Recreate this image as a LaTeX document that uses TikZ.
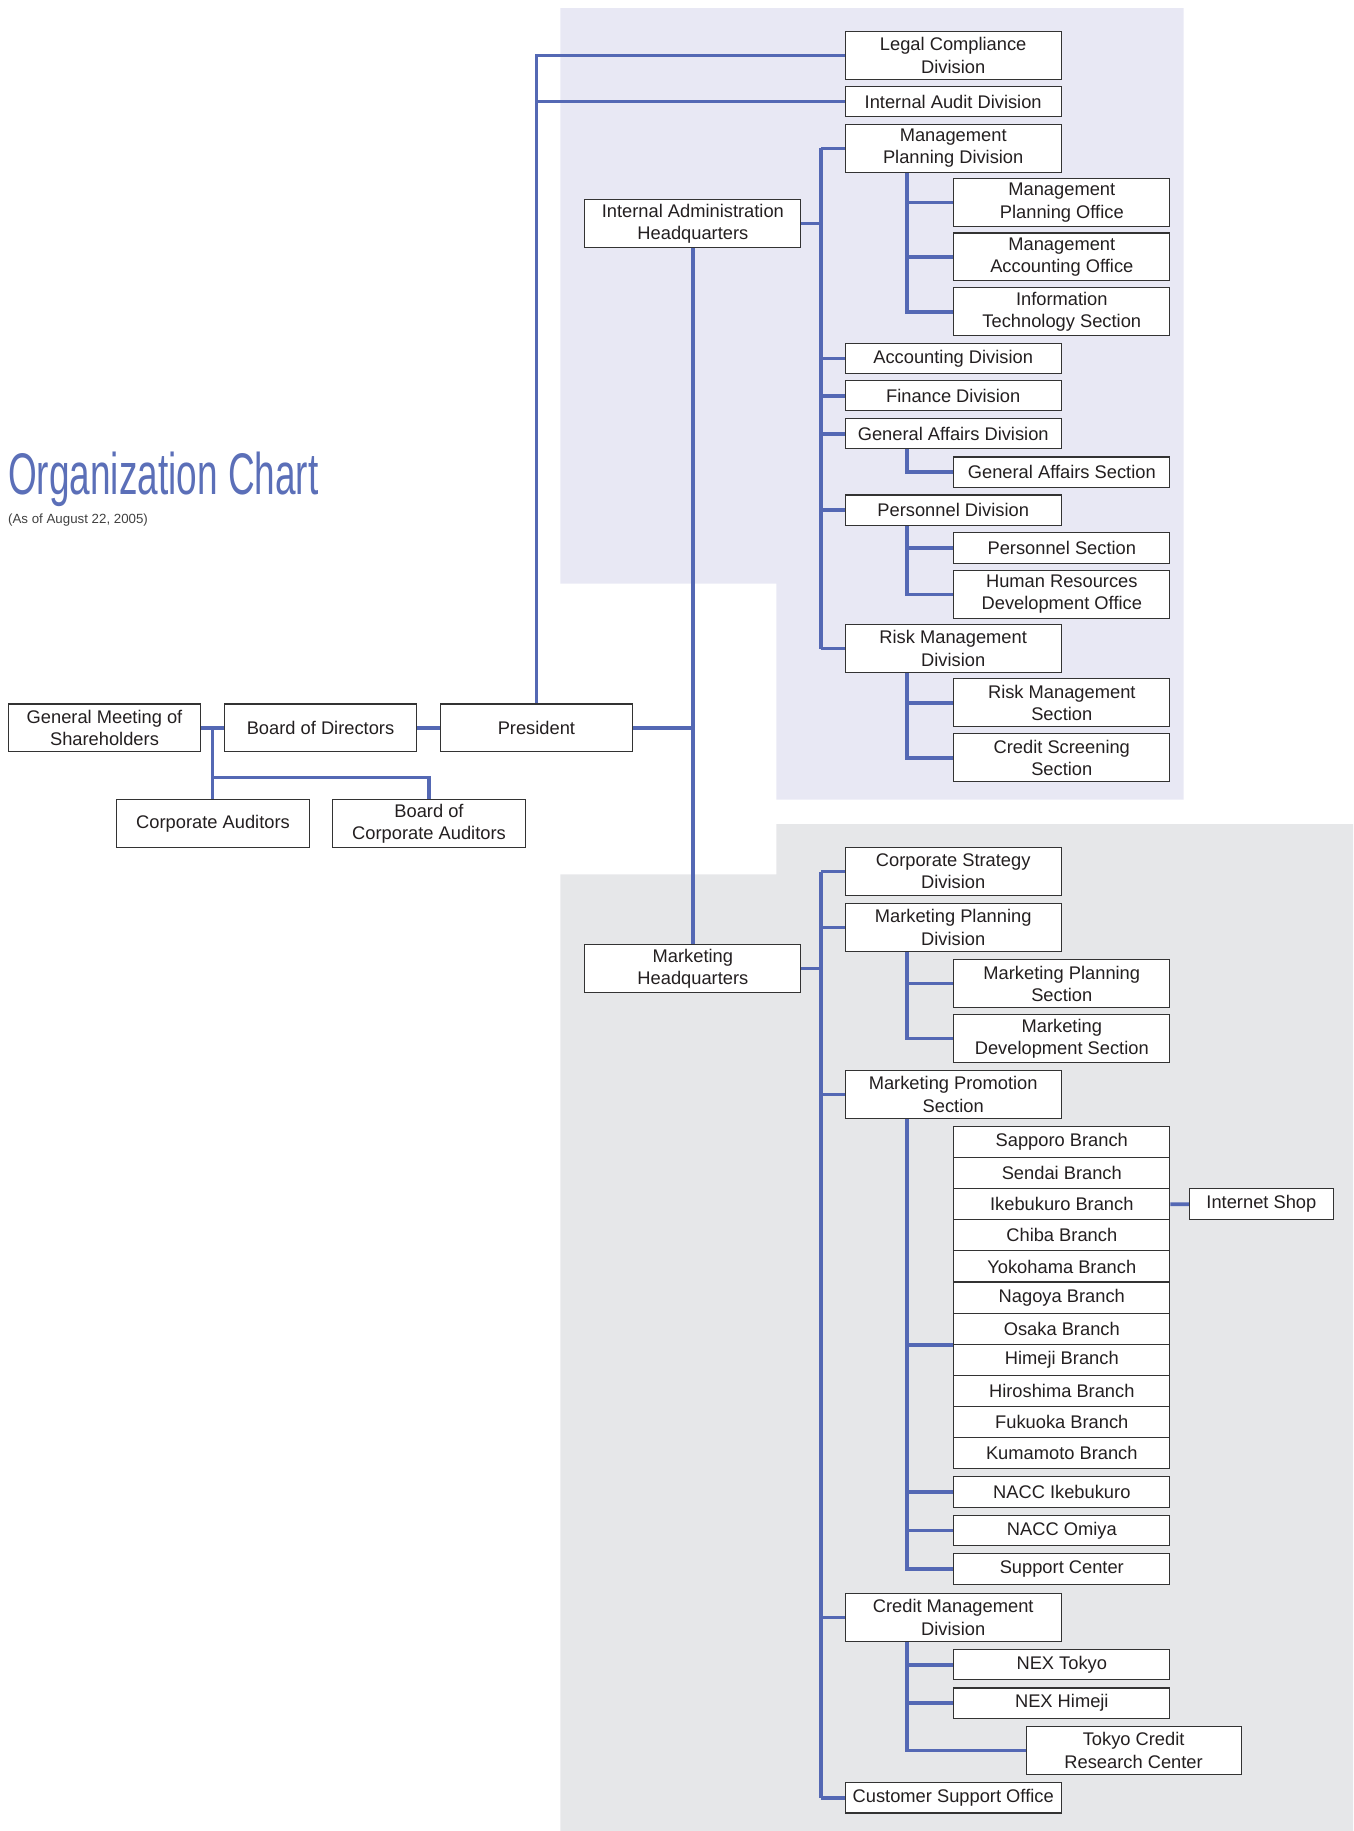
\documentclass[tikz,border=0pt]{standalone}
\usepackage{fontspec}
\setmainfont{Liberation Sans}
\newfontfamily\titlefont[FakeStretch=0.63]{Liberation Sans}
\definecolor{lineblue}{HTML}{5468B4}
\definecolor{titleblue}{HTML}{5B6FB8}
\definecolor{lav}{HTML}{E8E8F4}
\definecolor{greybg}{HTML}{E6E7E9}
\definecolor{boxline}{HTML}{333333}
\definecolor{txt}{HTML}{231F20}
\pgfdeclarelayer{bg}
\pgfdeclarelayer{lines}
\pgfsetlayers{bg,lines,main}
\begin{document}
\begin{tikzpicture}[x=1pt,y=-1pt,
  box/.style={draw=boxline, fill=white, line width=1.1pt, text=txt, align=center,
    inner sep=0pt, font=\fontsize{18.3}{22.2}\selectfont, minimum width=216pt},
  box1/.style={box, minimum height=30.4pt},
  box2/.style={box, minimum height=47.9pt},
  narrow/.style={minimum width=192.6pt},
  link/.style={draw=lineblue, line width=3.6pt}]
\useasboundingbox (0,0) rectangle (1353,1831);

% title
\node[anchor=base west, inner sep=0pt, text=titleblue, font=\titlefont\fontsize{58.7}{60}\selectfont] (title) at (8,494) {Organization Chart};
\node[anchor=base west, inner sep=0pt, text=black!75, font=\fontsize{13.3}{15}\selectfont] (subtitle) at (8,523.5) {(As of August 22, 2005)};

% left group
\node[box2, narrow] (gm) at (104.5,727.9) {General Meeting of\\Shareholders};
\node[box2, narrow] (bod) at (320.5,727.9) {Board of Directors};
\node[box2, narrow] (pres) at (536.4,727.9) {President};
\node[box2, narrow] (ca) at (213,823.6) {Corporate Auditors};
\node[box2, narrow] (bca) at (429,823.6) {Board of\\Corporate Auditors};

% headquarters
\node[box2] (iahq) at (692.9,223.6) {Internal Administration\\Headquarters};
\node[box2] (mhq) at (692.9,968.4) {Marketing\\Headquarters};

% internal administration divisions
\node[box2] (lcd) at (953.2,55.5) {Legal Compliance\\Division};
\node[box1] (iad) at (953.2,101.6) {Internal Audit Division};
\node[box2] (mpd) at (953.2,148.3) {Management\\Planning Division};
\node[box1] (acd) at (953.2,358.4) {Accounting Division};
\node[box1] (fd) at (953.2,395.7) {Finance Division};
\node[box1] (gad) at (953.2,433.7) {General Affairs Division};
\node[box1] (pd) at (953.2,510.2) {Personnel Division};
\node[box2] (rmd) at (953.2,648.5) {Risk Management\\Division};

\node[box2] (mpo) at (1061.8,202.6) {Management\\Planning Office};
\node[box2] (mao) at (1061.8,256.9) {Management\\Accounting Office};
\node[box2] (its) at (1061.8,311.7) {Information\\Technology Section};
\node[box1] (gas) at (1061.8,472.2) {General Affairs Section};
\node[box1] (ps) at (1061.8,548.1) {Personnel Section};
\node[box2] (hrd) at (1061.8,594.3) {Human Resources\\Development Office};
\node[box2] (rms) at (1061.8,702.8) {Risk Management\\Section};
\node[box2] (css) at (1061.8,757.7) {Credit Screening\\Section};

% marketing divisions
\node[box2] (csd) at (953.2,871.5) {Corporate Strategy\\Division};
\node[box2] (mkpd) at (953.2,927.5) {Marketing Planning\\Division};
\node[box2] (mps) at (953.2,1094.5) {Marketing Promotion\\Section};
\node[box2] (cmd) at (953.2,1617.5) {Credit Management\\Division};
\node[box1] (cso) at (953.2,1797.8) {Customer Support Office};

\node[box2] (mkps) at (1061.8,983.6) {Marketing Planning\\Section};
\node[box2] (mkds) at (1061.8,1038.4) {Marketing\\Development Section};
\foreach \n/\t [count=\k from 0] in {sap/Sapporo, sen/Sendai, ike/Ikebukuro, chi/Chiba, yok/Yokohama, nag/Nagoya, osa/Osaka, him/Himeji, hir/Hiroshima, fuk/Fukuoka, kum/Kumamoto}
  \node[box, minimum height=31.1pt] (\n) at (1061.8,{1142.05+31.1*\k}) {\t\ Branch};
\node[box, minimum height=31.1pt, minimum width=143.6pt] (ishop) at (1261.4,1204.2) {Internet Shop};
\node[box1] (nacci) at (1061.8,1492) {NACC Ikebukuro};
\node[box1] (nacco) at (1061.8,1530.5) {NACC Omiya};
\node[box1] (supc) at (1061.8,1569) {Support Center};
\node[box1] (next) at (1061.8,1664.7) {NEX Tokyo};
\node[box1] (nexh) at (1061.8,1703.2) {NEX Himeji};
\node[box2, minimum width=215pt] (tcrc) at (1133.6,1750.5) {Tokyo Credit\\Research Center};

% backgrounds
\begin{pgfonlayer}{bg}
\fill[lav] (560.4,8.2) -- (1183.7,8.2) -- (1183.7,799.7) -- (776.3,799.7) -- (776.3,583.7) -- (560.4,583.7) -- cycle;
\fill[greybg] (776.3,824.2) -- (1353,824.2) -- (1353,1831) -- (560.4,1831) -- (560.4,874.4) -- (776.3,874.4) -- cycle;
\end{pgfonlayer}

% connectors
\begin{pgfonlayer}{lines}
\draw[link] (gm.east) -- (bod.west);
\draw[link] (bod.east) -- (pres.west);
\coordinate (j1) at (212.5,727.9);
\coordinate (j2) at (212.5,777.5);
\draw[link] (j1) -- (j1 |- ca.north);
\draw[link] (j2) -| (bca.north);
\draw[link] (pres.north) |- (lcd.west);
\draw[link] (pres.north |- iad.west) -- (iad.west);
\draw[link] (pres.east) -- (pres.east -| iahq.south);
\draw[link] (iahq.south) -- (mhq.north);

\draw[link] (iahq.east) -- ++(21,0);
\draw[link] ([xshift=-23.4pt]mpd.west) -- ([xshift=-23.4pt]rmd.west);
\foreach \c in {mpd,acd,fd,gad,pd,rmd}
  \draw[link] (\c.west) -- ++(-23.4,0);

\draw[link] (mhq.east) -- ++(21,0);
\draw[link] ([xshift=-23.4pt]csd.west) -- ([xshift=-23.4pt]cso.west);
\foreach \c in {csd,mkpd,mps,cmd,cso}
  \draw[link] (\c.west) -- ++(-23.4,0);

\foreach \p/\c in {mpd/mpo.west, mpd/mao.west, mpd/its.west, gad/gas.west, pd/ps.west, pd/hrd.west, rmd/rms.west, rmd/css.west, mkpd/mkps.west, mkpd/mkds.west, mps/osa.south west, mps/nacci.west, mps/nacco.west, mps/supc.west, cmd/next.west, cmd/nexh.west, cmd/tcrc.west}
  \draw[link] ([xshift=-46.1pt]\p.south) |- (\c);

\draw[link] (ike.east) -- (ishop.west);
\end{pgfonlayer}
\end{tikzpicture}
\end{document}
